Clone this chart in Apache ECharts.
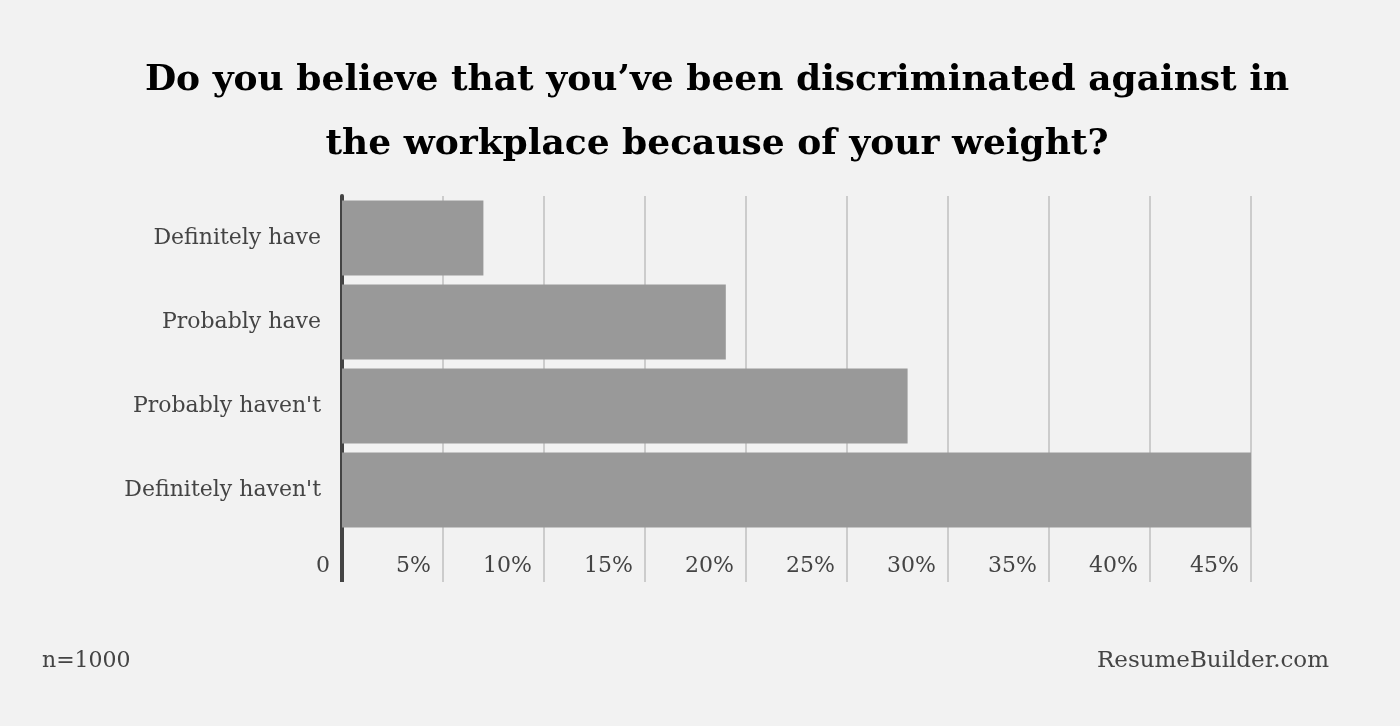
<!DOCTYPE html>
<html>
<head>
<meta charset="utf-8">
<script src="https://cdn.jsdelivr.net/npm/echarts@6/dist/echarts.min.js"></script>
<style>
  html, body { margin: 0; padding: 0; background: #f2f2f2; }
  #chart { width: 1400px; height: 726px; }
</style>
</head>
<body>
<div id="chart"></div>
<script>
// answers, top to bottom
const categories = ['Definitely have', 'Probably have', "Probably haven't", "Definitely haven't"];
const shares = [7, 19, 28, 45];
const tickMax = 45;
const tickStep = 5;

const serif = '"DejaVu Serif", serif';

const chart = echarts.init(document.getElementById('chart'));

const option = {
  backgroundColor: '#f2f2f2',
  animation: false,
  title: {
    text: 'Do you believe that you\u2019ve been discriminated against in\nthe workplace because of your weight?',
    left: 717,
    textAlign: 'center',
    top: 49,
    padding: 0,
    textStyle: {
      fontFamily: serif,
      fontWeight: 'bold',
      fontSize: 36,
      lineHeight: 64,
      color: '#000'
    }
  },
  graphic: [{
    type: 'text',
    left: 42,
    top: 650,
    style: { text: 'n=1000', fontFamily: serif, fontSize: 22, fill: '#444' }
  }, {
    type: 'text',
    right: 71,
    top: 650,
    style: { text: 'ResumeBuilder.com', fontFamily: serif, fontSize: 23, fill: '#444' }
  }],
  grid: {
    left: 342,
    right: 149,
    top: 196,
    bottom: 194
  },
  xAxis: [{
    type: 'value',
    min: 0,
    max: tickMax,
    interval: tickStep,
    axisLine: { show: false },
    axisTick: {
      show: true,
      length: 50,
      lineStyle: { color: '#cccccc', width: 2 }
    },
    splitLine: { show: true, lineStyle: { color: '#cccccc', width: 2 } },
    axisLabel: {
      margin: 23,
      align: 'right',
      padding: [0, 12, 0, 0],
      fontFamily: serif,
      fontSize: 22,
      color: '#444',
      showMaxLabel: true,
      formatter: v => (v === 0 ? '0' : v + '%')
    }
  }, {
    // extends the dark left axis below the bars
    type: 'value',
    min: 0,
    max: tickMax,
    position: 'bottom',
    axisLine: { show: false },
    splitLine: { show: false },
    axisLabel: { show: false },
    axisTick: {
      show: true,
      customValues: [0],
      length: 50,
      lineStyle: { color: '#444', width: 4 }
    }
  }],
  yAxis: {
    type: 'category',
    inverse: true,
    data: categories,
    axisLine: { show: true, lineStyle: { color: '#444', width: 4 } },
    axisTick: { show: false },
    axisLabel: {
      margin: 21,
      fontFamily: serif,
      fontSize: 22,
      color: '#444'
    }
  },
  series: [{
    type: 'bar',
    data: shares,
    barCategoryGap: '11%',
    itemStyle: { color: '#999999' }
  }]
};

chart.setOption(option);
</script>
</body>
</html>
